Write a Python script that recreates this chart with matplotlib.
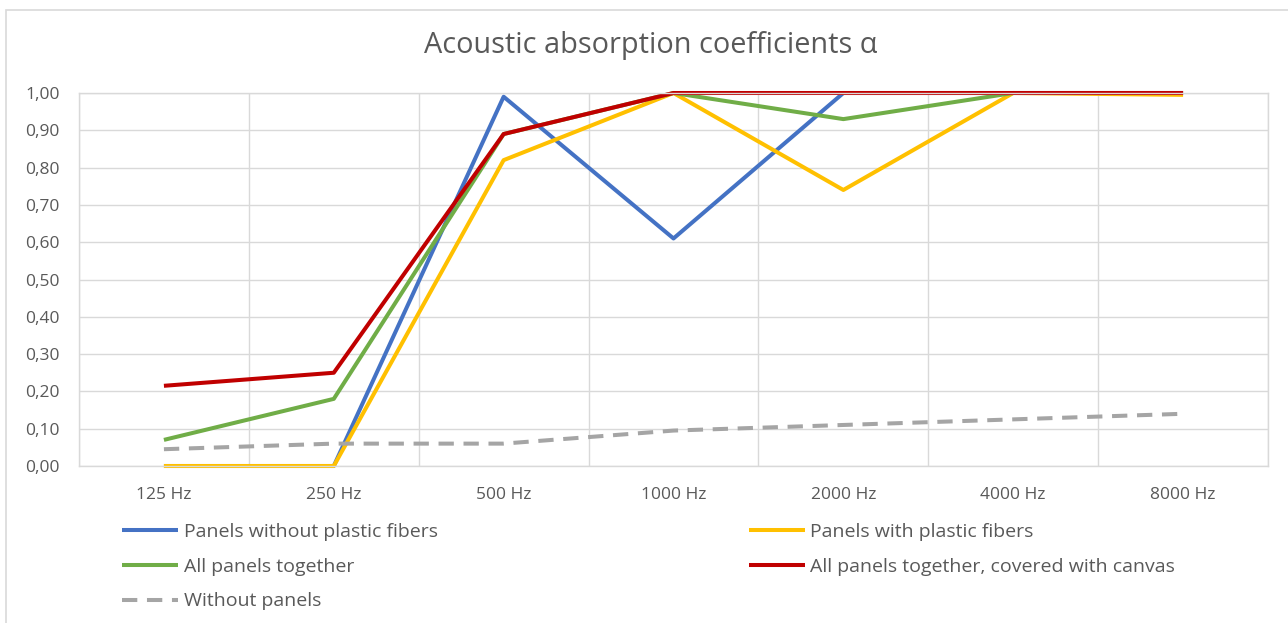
import matplotlib
matplotlib.use("Agg")
import matplotlib.pyplot as plt
from matplotlib.patches import Rectangle
import numpy as np

plt.rcParams["font.family"] = ["Open Sans", "DejaVu Sans"]

freqs = ["125 Hz", "250 Hz", "500 Hz", "1000 Hz", "2000 Hz", "4000 Hz", "8000 Hz"]
without_fibers = [0.00, 0.00, 0.99, 0.61, 1.00, 1.00, 1.00]
with_fibers = [0.00, 0.00, 0.82, 1.00, 0.74, 1.00, 0.995]
all_panels = [0.07, 0.18, 0.89, 1.00, 0.93, 1.00, 1.00]
all_canvas = [0.215, 0.25, 0.89, 1.00, 1.00, 1.00, 1.00]
no_panels = [0.045, 0.06, 0.06, 0.095, 0.11, 0.125, 0.14]
y_ticks = [0.0, 0.1, 0.2, 0.3, 0.4, 0.5, 0.6, 0.7, 0.8, 0.9, 1.0]

TXT = "#595959"
GRID = "#d9d9d9"

fig = plt.figure(figsize=(12.88, 6.23), dpi=100)
ax = fig.add_axes([79 / 1288, 1 - 466 / 623, (1268 - 79) / 1288, (466 - 93) / 623])

x = np.arange(len(freqs))
lw = 2.9
h1, = ax.plot(x, without_fibers, color="#4472C4", lw=lw, label="Panels without plastic fibers")
h2, = ax.plot(x, with_fibers, color="#FFC000", lw=lw, label="Panels with plastic fibers")
h3, = ax.plot(x, all_panels, color="#70AD47", lw=lw, label="All panels together")
h4, = ax.plot(x, all_canvas, color="#C00000", lw=lw, label="All panels together, covered with canvas")
h5, = ax.plot(x, no_panels, color="#A5A5A5", lw=lw, dashes=(3.8, 2.4), label="Without panels")
for h in (h1, h2, h3, h4, h5):
    h.set_solid_capstyle("butt")
    h.set_solid_joinstyle("round")
    h.set_clip_on(False)

ax.set_xlim(-0.5, len(freqs) - 0.5)
ax.set_ylim(0, 1)
ax.set_xticks(x)
ax.set_xticklabels(freqs)
ax.set_xticks(np.arange(len(freqs) + 1) - 0.5, minor=True)
ax.set_yticks(y_ticks)
ax.set_yticklabels([f"{v:.2f}".replace(".", ",") for v in y_ticks])
ax.tick_params(which="both", length=0, labelsize=12.5, colors=TXT)
ax.tick_params(axis="x", pad=15)
ax.tick_params(axis="y", pad=14)
ax.grid(axis="y", which="major", color=GRID, lw=1)
ax.grid(axis="x", which="minor", color=GRID, lw=1)
ax.set_axisbelow(True)
for s in ax.spines.values():
    s.set_color(GRID)
    s.set_linewidth(1)

fig.suptitle("Acoustic absorption coefficients α", x=0.505, y=1 - 46 / 623, va="center",
             fontsize=20.8, color=TXT)

leg = fig.legend([h1, h3, h5, h2, h4],
                 [h.get_label() for h in (h1, h3, h5, h2, h4)],
                 ncol=2, loc="upper left", bbox_to_anchor=(122 / 1288, 1 - 523 / 623),
                 frameon=False, fontsize=14, handlelength=2.9, handletextpad=0.27,
                 labelspacing=0.86, columnspacing=16.0, borderpad=0, borderaxespad=0)
for t in leg.get_texts():
    t.set_color(TXT)

fig.add_artist(Rectangle((6 / 1288, -0.05), 1.2, 1.05 - 10 / 623, transform=fig.transFigure,
                         fill=False, ec=GRID, lw=1.2))

fig.savefig("out.png", dpi=100, facecolor="white")
